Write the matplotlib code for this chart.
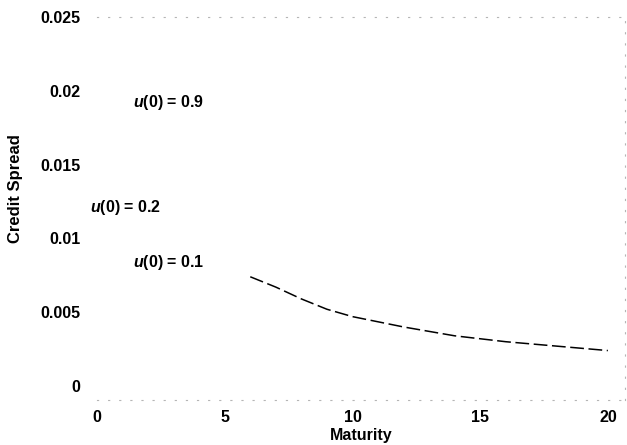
import matplotlib
matplotlib.use("Agg")
import matplotlib.pyplot as plt

# only the visible part of the faded curve survives in the scan
maturity = [6, 7, 8, 9, 10, 12, 14, 16, 18, 20]
spread = [0.0074, 0.0067, 0.0059, 0.0052, 0.0047, 0.0040, 0.0034, 0.0030, 0.0027, 0.0024]

x_ticks = [0, 5, 10, 15, 20]
y_ticks = [0, 0.005, 0.01, 0.015, 0.02, 0.025]
y_tick_labels = ["0", "0.005", "0.01", "0.015", "0.02", "0.025"]

curve_labels = ["0.9", "0.2", "0.1"]
label_pos = [(1.41, 0.0192), (-0.27, 0.0121), (1.41, 0.0084)]

plt.rcParams["font.family"] = ["Liberation Sans", "DejaVu Sans"]
plt.rcParams["font.weight"] = "bold"
plt.rcParams["mathtext.fontset"] = "custom"
plt.rcParams["mathtext.it"] = "Liberation Sans:italic:bold"
plt.rcParams["mathtext.rm"] = "Liberation Sans:bold"

fig = plt.figure(figsize=(6.27, 4.45), dpi=100)
ax = fig.add_axes([0.1547, 0.1011, 0.8421, 0.8607])

ax.plot(maturity, spread, color="black", lw=1.1, dashes=(9, 3))

for lab, (x, y) in zip(curve_labels, label_pos):
    ax.text(x, y, r"$\mathit{u}$(0) = " + lab, fontsize=11.5, fontweight="bold",
            ha="left", va="center", clip_on=False)

ax.set_xlim(0, 20.67)
ax.set_ylim(-0.00095, 0.025)
ax.set_xticks(x_ticks)
ax.set_yticks(y_ticks)
ax.set_yticklabels(y_tick_labels)
ax.tick_params(length=0, labelsize=11.5)
ax.tick_params(axis="y", pad=12)
ax.tick_params(axis="x", pad=7)

ax.set_xlabel("Maturity", fontsize=11.5, fontweight="bold", labelpad=2)
ax.set_ylabel("Credit Spread", fontsize=12, fontweight="bold")
ax.yaxis.set_label_coords(-0.14, 0.553)

# faded frame from the scan
ax.spines["left"].set_visible(False)
for side in ["top", "right", "bottom"]:
    ax.spines[side].set_color("#b5b5b5")
    ax.spines[side].set_linestyle((0, (1, 9)))
    ax.spines[side].set_linewidth(0.8)

fig.savefig("out.png", dpi=100)
